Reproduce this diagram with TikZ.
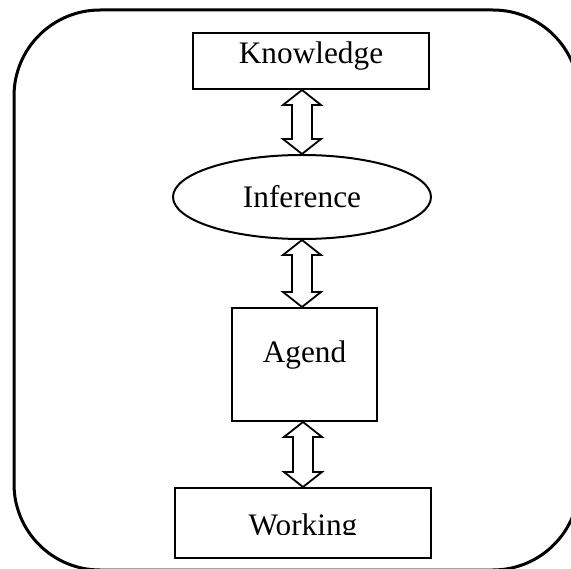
\documentclass[tikz,border=0pt]{standalone}
\usepackage{fontspec}
\setmainfont{Liberation Serif}
\usetikzlibrary{shapes.geometric,calc}
\tikzset{
  boxnode/.style={draw=black, line width=2pt, rectangle, inner sep=0pt, font=\fontsize{31.3}{38}\selectfont},
  ellnode/.style={draw=black, line width=2pt, ellipse, inner sep=0pt, font=\fontsize{31.3}{38}\selectfont},
  txtnode/.style={inner sep=0pt, font=\fontsize{31.3}{38}\selectfont},
  dblarr/.style={draw=black, fill=white, line width=1.8pt, line join=miter},
  frame/.style={draw=black, line width=3pt, rounded corners=86pt}
}
\newcommand\mydblarrow[2]{%
  \draw[dblarr] let \p1=(#1), \p2=(#2) in
    (\x1,\y1) -- (\x1+19pt,\y1-15pt) -- (\x1+10pt,\y1-15pt) -- (\x1+10pt,\y2+15pt)
    -- (\x1+19pt,\y2+15pt) -- (\x1,\y2) -- (\x1-19pt,\y2+15pt) -- (\x1-10pt,\y2+15pt)
    -- (\x1-10pt,\y1-15pt) -- (\x1-19pt,\y1-15pt) -- cycle;}
\begin{document}
\begin{tikzpicture}[x=1pt,y=-1pt]
\useasboundingbox (0,0) rectangle (571,569);
\clip (0,0) rectangle (571,569);
\fill[white] (0,0) rectangle (571,569);
\draw[frame] (14,10) rectangle (579,570);
\node[boxnode, minimum width=236pt, minimum height=56pt, text height=12pt, text depth=6pt] (k) at (311,61) {Knowledge};
\node[ellnode, minimum width=258pt, minimum height=84pt] (i) at (302,197) {Inference};
\node[boxnode, minimum width=145pt, minimum height=113pt, text height=10pt, text depth=13pt] (a) at (304.5,364.5) {Agend};
\node[boxnode, minimum width=256pt, minimum height=70pt] (w) at (303,523) {};
\begin{scope}
  \clip (150,480) rectangle (450,535);
  \node[txtnode, anchor=base] (wt) at (303,536) {Working};
\end{scope}
\mydblarrow{i.north |- k.south}{i.north}
\mydblarrow{i.south}{i.south |- a.north}
\mydblarrow{w.north |- a.south}{w.north}
\end{tikzpicture}
\end{document}
